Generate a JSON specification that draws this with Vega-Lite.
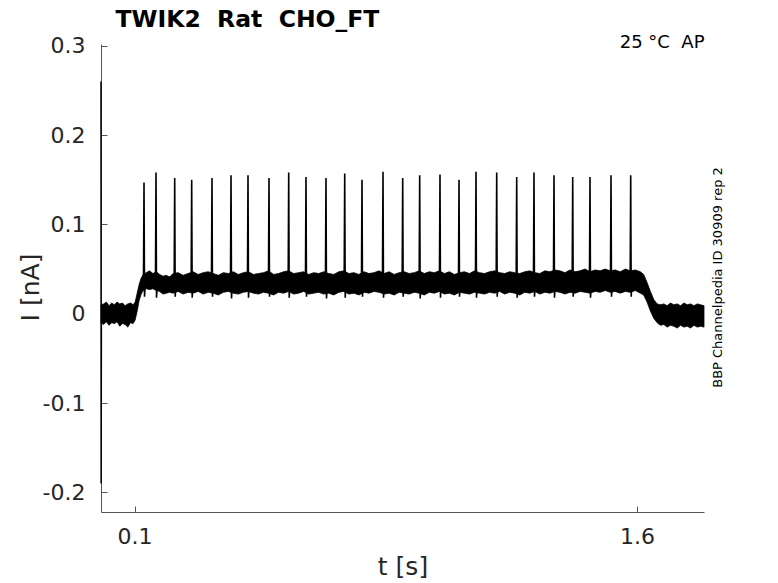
{
  "$schema": "https://vega.github.io/schema/vega-lite/v6.json",
  "width": 603,
  "height": 468,
  "autosize": {"type": "none"},
  "padding": {"left": 101, "top": 44, "right": 74, "bottom": 71},
  "background": "white",
  "config": {"view": {"stroke": null}, "font": "DejaVu Sans"},
  "datasets": {
    "band": [
      {"t":0.000,"lo":-0.010,"hi":0.010},{"t":0.008,"lo":-0.012,"hi":0.011},{"t":0.016,"lo":-0.009,"hi":0.013},{"t":0.024,"lo":-0.013,"hi":0.009},
      {"t":0.032,"lo":-0.010,"hi":0.012},{"t":0.040,"lo":-0.011,"hi":0.010},{"t":0.048,"lo":-0.009,"hi":0.013},{"t":0.056,"lo":-0.014,"hi":0.011},
      {"t":0.064,"lo":-0.011,"hi":0.012},{"t":0.072,"lo":-0.012,"hi":0.009},{"t":0.080,"lo":-0.015,"hi":0.011},{"t":0.088,"lo":-0.010,"hi":0.012},
      {"t":0.096,"lo":-0.011,"hi":0.010},{"t":0.102,"lo":-0.007,"hi":0.013},{"t":0.108,"lo":0.003,"hi":0.023},{"t":0.114,"lo":0.015,"hi":0.033},
      {"t":0.120,"lo":0.022,"hi":0.040},{"t":0.126,"lo":0.026,"hi":0.044},{"t":0.135,"lo":0.028,"hi":0.046},{"t":0.145,"lo":0.027,"hi":0.048},
      {"t":0.155,"lo":0.028,"hi":0.045},{"t":0.165,"lo":0.026,"hi":0.047},{"t":0.175,"lo":0.025,"hi":0.044},{"t":0.185,"lo":0.022,"hi":0.042},
      {"t":0.195,"lo":0.023,"hi":0.043},{"t":0.205,"lo":0.024,"hi":0.041},{"t":0.215,"lo":0.023,"hi":0.045},{"t":0.230,"lo":0.025,"hi":0.046},
      {"t":0.245,"lo":0.022,"hi":0.043},{"t":0.260,"lo":0.024,"hi":0.045},{"t":0.275,"lo":0.023,"hi":0.047},{"t":0.290,"lo":0.025,"hi":0.044},
      {"t":0.305,"lo":0.022,"hi":0.046},{"t":0.320,"lo":0.024,"hi":0.047},{"t":0.335,"lo":0.023,"hi":0.045},{"t":0.350,"lo":0.021,"hi":0.043},
      {"t":0.365,"lo":0.024,"hi":0.046},{"t":0.380,"lo":0.025,"hi":0.045},{"t":0.395,"lo":0.023,"hi":0.047},{"t":0.410,"lo":0.022,"hi":0.044},
      {"t":0.425,"lo":0.024,"hi":0.046},{"t":0.440,"lo":0.025,"hi":0.047},{"t":0.455,"lo":0.023,"hi":0.044},{"t":0.470,"lo":0.022,"hi":0.045},
      {"t":0.485,"lo":0.024,"hi":0.046},{"t":0.500,"lo":0.023,"hi":0.048},{"t":0.515,"lo":0.021,"hi":0.044},{"t":0.530,"lo":0.024,"hi":0.045},
      {"t":0.545,"lo":0.023,"hi":0.047},{"t":0.560,"lo":0.025,"hi":0.048},{"t":0.575,"lo":0.022,"hi":0.045},{"t":0.590,"lo":0.023,"hi":0.046},
      {"t":0.605,"lo":0.025,"hi":0.047},{"t":0.620,"lo":0.022,"hi":0.044},{"t":0.635,"lo":0.023,"hi":0.046},{"t":0.650,"lo":0.024,"hi":0.045},
      {"t":0.665,"lo":0.022,"hi":0.047},{"t":0.680,"lo":0.023,"hi":0.045},{"t":0.695,"lo":0.021,"hi":0.044},{"t":0.710,"lo":0.024,"hi":0.047},
      {"t":0.725,"lo":0.025,"hi":0.048},{"t":0.740,"lo":0.022,"hi":0.045},{"t":0.755,"lo":0.023,"hi":0.046},{"t":0.770,"lo":0.021,"hi":0.044},
      {"t":0.785,"lo":0.024,"hi":0.047},{"t":0.800,"lo":0.023,"hi":0.045},{"t":0.815,"lo":0.025,"hi":0.046},{"t":0.830,"lo":0.024,"hi":0.048},
      {"t":0.845,"lo":0.022,"hi":0.045},{"t":0.860,"lo":0.023,"hi":0.047},{"t":0.875,"lo":0.021,"hi":0.044},{"t":0.890,"lo":0.024,"hi":0.046},
      {"t":0.905,"lo":0.023,"hi":0.047},{"t":0.920,"lo":0.022,"hi":0.045},{"t":0.935,"lo":0.024,"hi":0.046},{"t":0.950,"lo":0.023,"hi":0.048},
      {"t":0.965,"lo":0.021,"hi":0.045},{"t":0.980,"lo":0.024,"hi":0.047},{"t":0.995,"lo":0.023,"hi":0.046},{"t":1.010,"lo":0.025,"hi":0.048},
      {"t":1.025,"lo":0.022,"hi":0.045},{"t":1.040,"lo":0.023,"hi":0.047},{"t":1.055,"lo":0.021,"hi":0.044},{"t":1.070,"lo":0.024,"hi":0.046},
      {"t":1.085,"lo":0.023,"hi":0.047},{"t":1.100,"lo":0.022,"hi":0.045},{"t":1.115,"lo":0.024,"hi":0.048},{"t":1.130,"lo":0.023,"hi":0.046},
      {"t":1.145,"lo":0.022,"hi":0.045},{"t":1.160,"lo":0.024,"hi":0.047},{"t":1.175,"lo":0.023,"hi":0.048},{"t":1.190,"lo":0.025,"hi":0.046},
      {"t":1.205,"lo":0.022,"hi":0.045},{"t":1.220,"lo":0.024,"hi":0.047},{"t":1.235,"lo":0.023,"hi":0.046},{"t":1.250,"lo":0.021,"hi":0.045},
      {"t":1.265,"lo":0.024,"hi":0.047},{"t":1.280,"lo":0.023,"hi":0.048},{"t":1.295,"lo":0.025,"hi":0.046},{"t":1.310,"lo":0.022,"hi":0.045},
      {"t":1.325,"lo":0.024,"hi":0.048},{"t":1.340,"lo":0.023,"hi":0.047},{"t":1.355,"lo":0.025,"hi":0.049},{"t":1.370,"lo":0.024,"hi":0.048},
      {"t":1.385,"lo":0.022,"hi":0.046},{"t":1.400,"lo":0.024,"hi":0.049},{"t":1.415,"lo":0.023,"hi":0.047},{"t":1.430,"lo":0.025,"hi":0.048},
      {"t":1.445,"lo":0.024,"hi":0.050},{"t":1.460,"lo":0.023,"hi":0.047},{"t":1.475,"lo":0.025,"hi":0.049},{"t":1.490,"lo":0.024,"hi":0.048},
      {"t":1.505,"lo":0.026,"hi":0.050},{"t":1.520,"lo":0.024,"hi":0.048},{"t":1.535,"lo":0.025,"hi":0.049},{"t":1.550,"lo":0.023,"hi":0.047},
      {"t":1.565,"lo":0.025,"hi":0.050},{"t":1.580,"lo":0.024,"hi":0.048},{"t":1.595,"lo":0.026,"hi":0.049},{"t":1.610,"lo":0.023,"hi":0.047},
      {"t":1.620,"lo":0.021,"hi":0.044},{"t":1.630,"lo":0.013,"hi":0.035},{"t":1.640,"lo":0.003,"hi":0.025},{"t":1.650,"lo":-0.005,"hi":0.016},
      {"t":1.660,"lo":-0.010,"hi":0.011},{"t":1.670,"lo":-0.013,"hi":0.010},{"t":1.680,"lo":-0.012,"hi":0.011},{"t":1.690,"lo":-0.015,"hi":0.009},
      {"t":1.700,"lo":-0.013,"hi":0.012},{"t":1.710,"lo":-0.014,"hi":0.010},{"t":1.720,"lo":-0.016,"hi":0.011},{"t":1.730,"lo":-0.013,"hi":0.009},
      {"t":1.740,"lo":-0.015,"hi":0.012},{"t":1.750,"lo":-0.014,"hi":0.010},{"t":1.760,"lo":-0.016,"hi":0.011},{"t":1.770,"lo":-0.013,"hi":0.009},
      {"t":1.780,"lo":-0.015,"hi":0.011},{"t":1.790,"lo":-0.014,"hi":0.010},{"t":1.800,"lo":-0.015,"hi":0.009}
    ],
    "spikes": [
      {"t":0.1250,"I":0.035},
      {"t":0.1269,"I":0.042},{"t":0.1284,"I":0.147},{"t":0.1299,"I":0.019},{"t":0.1324,"I":0.035},
      {"t":0.1627,"I":0.044},{"t":0.1642,"I":0.158},{"t":0.1657,"I":0.018},{"t":0.1682,"I":0.034},
      {"t":0.2185,"I":0.043},{"t":0.2200,"I":0.152},{"t":0.2215,"I":0.019},{"t":0.2240,"I":0.035},
      {"t":0.2692,"I":0.042},{"t":0.2707,"I":0.150},{"t":0.2722,"I":0.018},{"t":0.2747,"I":0.034},
      {"t":0.3298,"I":0.044},{"t":0.3313,"I":0.152},{"t":0.3328,"I":0.019},{"t":0.3353,"I":0.035},
      {"t":0.3866,"I":0.043},{"t":0.3881,"I":0.155},{"t":0.3896,"I":0.017},{"t":0.3921,"I":0.035},
      {"t":0.4373,"I":0.044},{"t":0.4388,"I":0.155},{"t":0.4403,"I":0.018},{"t":0.4428,"I":0.034},
      {"t":0.5000,"I":0.045},{"t":0.5015,"I":0.152},{"t":0.5030,"I":0.019},{"t":0.5055,"I":0.035},
      {"t":0.5588,"I":0.043},{"t":0.5603,"I":0.158},{"t":0.5618,"I":0.018},{"t":0.5643,"I":0.035},
      {"t":0.6104,"I":0.044},{"t":0.6119,"I":0.153},{"t":0.6134,"I":0.019},{"t":0.6159,"I":0.034},
      {"t":0.6701,"I":0.045},{"t":0.6716,"I":0.152},{"t":0.6731,"I":0.017},{"t":0.6756,"I":0.035},
      {"t":0.7260,"I":0.044},{"t":0.7275,"I":0.157},{"t":0.7290,"I":0.018},{"t":0.7315,"I":0.035},
      {"t":0.7776,"I":0.043},{"t":0.7791,"I":0.150},{"t":0.7806,"I":0.019},{"t":0.7831,"I":0.034},
      {"t":0.8403,"I":0.045},{"t":0.8418,"I":0.159},{"t":0.8433,"I":0.018},{"t":0.8458,"I":0.035},
      {"t":0.8991,"I":0.044},{"t":0.9006,"I":0.152},{"t":0.9021,"I":0.019},{"t":0.9046,"I":0.035},
      {"t":0.9498,"I":0.043},{"t":0.9513,"I":0.155},{"t":0.9528,"I":0.017},{"t":0.9553,"I":0.034},
      {"t":1.0104,"I":0.045},{"t":1.0119,"I":0.156},{"t":1.0134,"I":0.018},{"t":1.0159,"I":0.035},
      {"t":1.0672,"I":0.044},{"t":1.0687,"I":0.150},{"t":1.0702,"I":0.019},{"t":1.0727,"I":0.035},
      {"t":1.1179,"I":0.045},{"t":1.1194,"I":0.159},{"t":1.1209,"I":0.018},{"t":1.1234,"I":0.034},
      {"t":1.1797,"I":0.044},{"t":1.1812,"I":0.158},{"t":1.1827,"I":0.019},{"t":1.1852,"I":0.035},
      {"t":1.2394,"I":0.045},{"t":1.2409,"I":0.153},{"t":1.2424,"I":0.018},{"t":1.2449,"I":0.035},
      {"t":1.2910,"I":0.044},{"t":1.2925,"I":0.158},{"t":1.2940,"I":0.019},{"t":1.2965,"I":0.034},
      {"t":1.3507,"I":0.046},{"t":1.3522,"I":0.155},{"t":1.3537,"I":0.018},{"t":1.3562,"I":0.035},
      {"t":1.4066,"I":0.045},{"t":1.4081,"I":0.153},{"t":1.4096,"I":0.019},{"t":1.4121,"I":0.035},
      {"t":1.4582,"I":0.046},{"t":1.4597,"I":0.153},{"t":1.4612,"I":0.018},{"t":1.4637,"I":0.036},
      {"t":1.5209,"I":0.047},{"t":1.5224,"I":0.155},{"t":1.5239,"I":0.019},{"t":1.5264,"I":0.036},
      {"t":1.5797,"I":0.047},{"t":1.5812,"I":0.155},{"t":1.5827,"I":0.019},{"t":1.5852,"I":0.036}
    ],
    "transient": [
      {"t":0.0000,"I":0.260},{"t":0.0004,"I":-0.190},{"t":0.0012,"I":0.000}
    ]
  },
  "resolve": {"axis": {"x": "independent", "y": "independent"}},
  "layer": [
    {
      "data": {"name": "band"},
      "mark": {"type": "area", "color": "black", "stroke": "black", "strokeWidth": 0.8, "interpolate": "linear"},
      "encoding": {
        "x": {"field": "t", "type": "quantitative",
          "scale": {"domain": [0, 1.8], "nice": false, "zero": false},
          "axis": {"orient": "bottom", "values": [0.1, 1.6], "format": ".1f", "grid": false,
            "labelFontSize": 22, "labelColor": "#262626", "labelPadding": 20.5, "labelFlush": false,
            "tickSize": -6, "tickColor": "#555555", "domainColor": "#555555",
            "title": "t [s]", "titleFontSize": 25, "titleFontWeight": "normal", "titleColor": "#262626",
            "titleX": 301.5, "titleY": 62, "titleAlign": "center", "titleBaseline": "alphabetic"}},
        "y": {"field": "lo", "type": "quantitative",
          "scale": {"domain": [-0.222, 0.302], "nice": false, "zero": false},
          "axis": {"orient": "left", "values": [-0.2, -0.1, 0, 0.1, 0.2, 0.3], "grid": false,
            "labelExpr": "datum.value == 0 ? '0' : replace(format(datum.value, '.1f'), '−', '-')",
            "labelFontSize": 22, "labelColor": "#262626", "labelPadding": 22,
            "tickSize": -6, "tickColor": "#555555", "domainColor": "#555555",
            "title": "I [nA]", "titleFontSize": 25, "titleFontWeight": "normal", "titleColor": "#262626",
            "titleAngle": 270, "titleX": -63, "titleY": 243, "titleAlign": "center", "titleBaseline": "alphabetic"}},
        "y2": {"field": "hi"}
      }
    },
    {
      "data": {"name": "spikes"},
      "mark": {"type": "line", "color": "black", "strokeWidth": 1.6},
      "encoding": {
        "x": {"field": "t", "type": "quantitative",
          "scale": {"domain": [0, 1.8], "nice": false, "zero": false},
          "axis": {"orient": "top", "labels": false, "ticks": false, "domain": false, "grid": false,
            "title": "TWIK2\u00a0 Rat\u00a0 CHO_FT", "titleFontSize": 23.5, "titleFontWeight": "bold", "titleColor": "black",
            "titleX": 14, "titleY": -18, "titleAlign": "left", "titleBaseline": "alphabetic", "titleAngle": 0}},
        "y": {"field": "I", "type": "quantitative",
          "scale": {"domain": [-0.222, 0.302], "nice": false, "zero": false},
          "axis": {"orient": "right", "labels": false, "ticks": false, "domain": false, "grid": false,
            "title": "BBP Channelpedia ID 30909 rep 2", "titleFontSize": 13, "titleFontWeight": "normal", "titleColor": "black",
            "titleAngle": 270, "titleX": 17, "titleY": 233, "titleAlign": "center", "titleBaseline": "alphabetic"}}
      }
    },
    {
      "data": {"name": "transient"},
      "mark": {"type": "line", "color": "black", "strokeWidth": 1.5},
      "encoding": {
        "x": {"field": "t", "type": "quantitative",
          "scale": {"domain": [0, 1.8], "nice": false, "zero": false},
          "axis": {"orient": "top", "labels": false, "ticks": false, "domain": false, "grid": false,
            "title": "25 °C\u00a0 AP", "titleFontSize": 18, "titleFontWeight": "normal", "titleColor": "black",
            "titleX": 603, "titleY": 3.3, "titleAlign": "right", "titleBaseline": "alphabetic", "titleAngle": 0}},
        "y": {"field": "I", "type": "quantitative",
          "scale": {"domain": [-0.222, 0.302], "nice": false, "zero": false},
          "axis": null}
      }
    }
  ]
}
